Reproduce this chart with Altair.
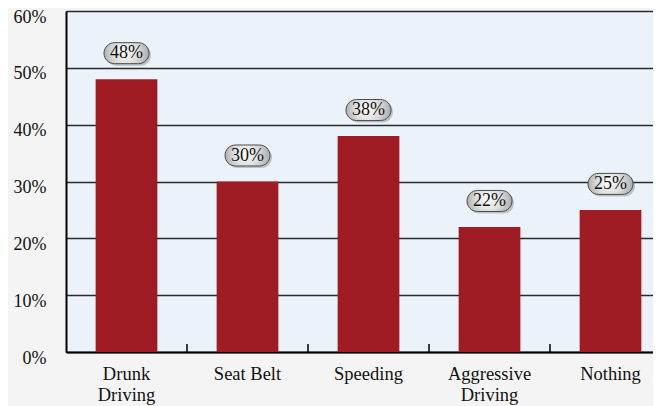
import altair as alt
import pandas as pd

categories = ["Drunk Driving", "Seat Belt", "Speeding", "Aggressive Driving", "Nothing"]
values = [48, 30, 38, 22, 25]
labels = ["48%", "30%", "38%", "22%", "25%"]
y_ticks = [0, 10, 20, 30, 40, 50, 60]

df = pd.DataFrame({"cat": categories, "val": values, "lab": labels})

FONT = "Liberation Serif"
BAR = "#a01c24"

x_scale = alt.Scale(domain=categories, range=[0, 605], paddingInner=0, paddingOuter=0)
y_scale = alt.Scale(domain=[0, 60], nice=False)

x_enc = alt.X(
    "cat:N", scale=x_scale, sort=categories, title=None,
    axis=alt.Axis(
        labelAngle=0, ticks=False, domainColor="#000", domainWidth=2,
        labelFont=FONT, labelFontSize=18.5, labelColor="#111", labelPadding=12,
        labelLineHeight=21,
        labelExpr="datum.label == 'Seat Belt' ? datum.label : split(datum.label, ' ')",
        grid=False,
    ),
)
y_enc = alt.Y(
    "val:Q", scale=y_scale, title=None,
    axis=alt.Axis(
        values=y_ticks, ticks=False, domainColor="#000", domainWidth=2,
        labelFont=FONT, labelFontSize=18, labelColor="#111", labelPadding=20,
        labelOffset=6, labelBound=False,
        labelExpr="datum.value + '%'", gridColor="#2a2a2a", gridWidth=1.5,
        gridOpacity=1,
    ),
)

base = alt.Chart(df)

bars = base.mark_bar(color=BAR, width=alt.RelativeBandSize(0.51)).encode(x=x_enc, y=y_enc)

ticks = base.mark_rule(color="#000", strokeWidth=1.5).encode(
    x=alt.X("cat:N", scale=x_scale, sort=categories, bandPosition=1),
    y=alt.value(341),
    y2=alt.value(333),
)

shadow = base.mark_rect(
    width=45, height=21, cornerRadius=10.5, color="#6a6a6a", opacity=0.35,
    yOffset=-24, xOffset=2,
).encode(x=alt.X("cat:N", scale=x_scale, sort=categories), y=alt.Y("val:Q", scale=y_scale))

pill_fill = alt.Gradient(
    gradient="radial",
    stops=[
        alt.GradientStop(color="#ffffff", offset=0),
        alt.GradientStop(color="#dedede", offset=0.45),
        alt.GradientStop(color="#9a9a9a", offset=1),
    ],
    x1=0.45, y1=0.45, r1=0, x2=0.5, y2=0.5, r2=0.6,
)

pills = base.mark_rect(
    width=45, height=21, cornerRadius=10.5, fill=pill_fill, stroke="#4a4a4a",
    strokeWidth=1, yOffset=-26,
).encode(x=alt.X("cat:N", scale=x_scale, sort=categories), y=alt.Y("val:Q", scale=y_scale))

texts = base.mark_text(
    font=FONT, fontSize=18, color="#111", yOffset=-26, baseline="middle", align="center",
).encode(x=alt.X("cat:N", scale=x_scale, sort=categories), y=alt.Y("val:Q", scale=y_scale), text="lab:N")

chart = (
    alt.layer(bars, ticks, shadow, pills, texts)
    .properties(
        width=587, height=341,
        autosize=alt.AutoSizeParams(type="none"),
        padding={"left": 58, "top": 3, "right": 0, "bottom": 54},
        background="#f4f4f4",
    )
    .configure_view(fill="#ebf2fa", strokeWidth=0)
)

chart.save("out.html", embed_options={"renderer": "svg", "actions": False})
